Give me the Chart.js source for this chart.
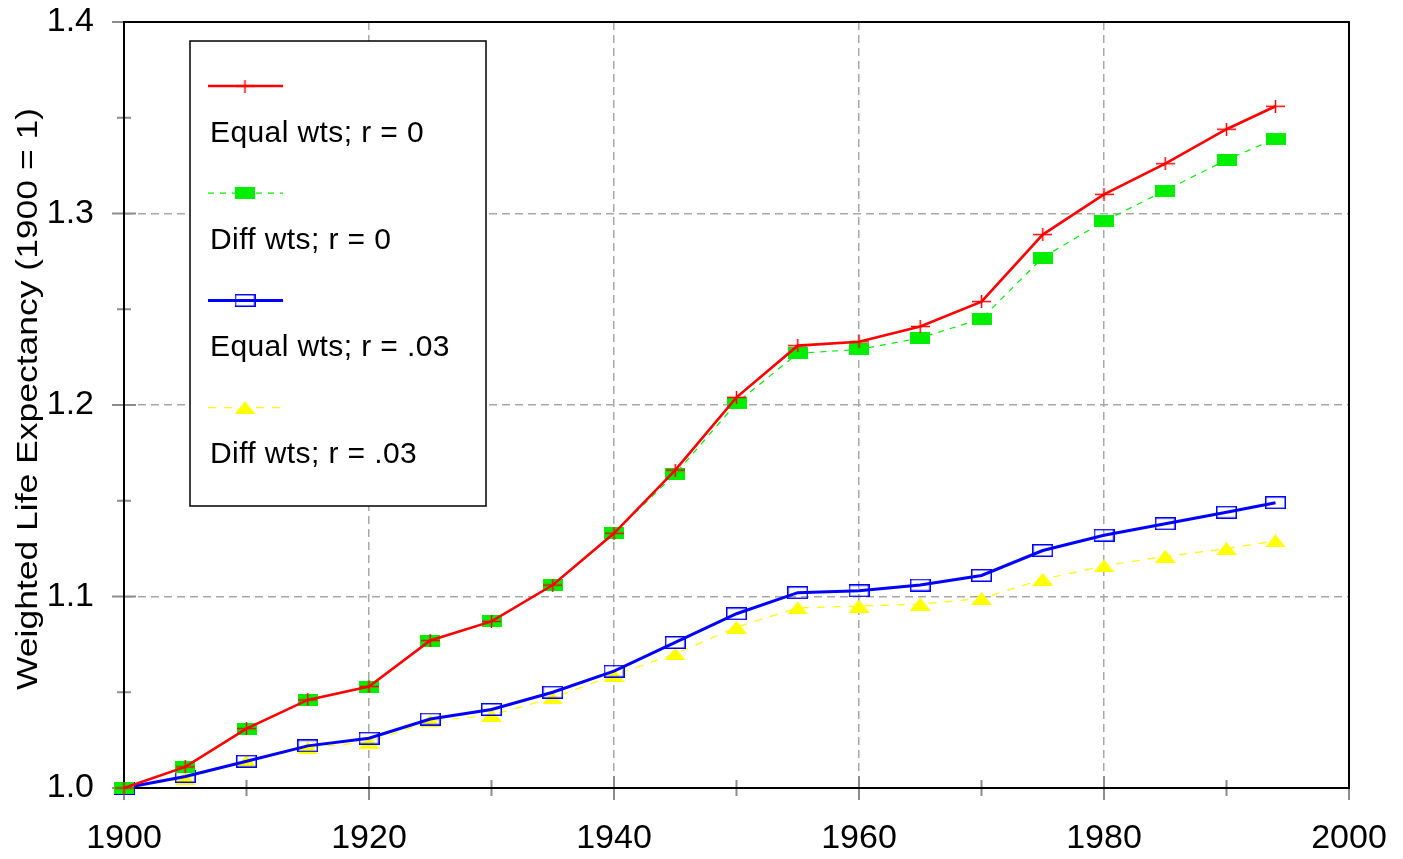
<!DOCTYPE html>
<html>
<head>
<meta charset="utf-8">
<script src="https://cdn.jsdelivr.net/npm/chart.js@4.4.1/dist/chart.umd.min.js"></script>
<style>
  html, body { margin: 0; padding: 0; background: #fff; }
  #wrap { width: 1403px; height: 859px; }
</style>
</head>
<body>
<div id="wrap"><canvas id="lifeChart" width="1403" height="859"></canvas></div>
<script>
const years = [1900, 1905, 1910, 1915, 1920, 1925, 1930, 1935, 1940, 1945, 1950,
               1955, 1960, 1965, 1970, 1975, 1980, 1985, 1990, 1994];

const equalWtsR0 = [1.000, 1.011, 1.031, 1.046, 1.053, 1.077, 1.087, 1.106, 1.133, 1.166, 1.204,
                    1.231, 1.233, 1.241, 1.254, 1.289, 1.310, 1.326, 1.344, 1.356];
const diffWtsR0 = [1.000, 1.011, 1.031, 1.046, 1.053, 1.077, 1.087, 1.106, 1.133, 1.164, 1.201,
                   1.227, 1.229, 1.235, 1.245, 1.277, 1.296, 1.312, 1.328, 1.339];
const equalWtsR03 = [1.000, 1.006, 1.014, 1.022, 1.026, 1.036, 1.041, 1.050, 1.061, 1.076, 1.091,
                     1.102, 1.103, 1.106, 1.111, 1.124, 1.132, 1.138, 1.144, 1.149];
const diffWtsR03 = [1.000, 1.005, 1.014, 1.021, 1.024, 1.035, 1.038, 1.047, 1.059, 1.070, 1.084,
                    1.094, 1.095, 1.096, 1.099, 1.109, 1.116, 1.121, 1.125, 1.129];

const seriesLabels = ["Equal wts; r = 0", "Diff wts; r = 0", "Equal wts; r = .03", "Diff wts; r = .03"];
const xTickLabels = [1900, 1920, 1940, 1960, 1980, 2000];
const yTickLabels = [1.0, 1.1, 1.2, 1.3, 1.4];
const yAxisTitle = "Weighted Life Expectancy (1900 = 1)";

const FONT = "'Liberation Sans', Arial, Helvetica, sans-serif";

function makeMarker(kind, color) {
   const c = document.createElement("canvas");
   const ctx = c.getContext("2d");
   if (kind === "plus") {
      c.width = 19; c.height = 13;
      ctx.strokeStyle = color;
      ctx.lineWidth = 1.5;
      ctx.beginPath();
      ctx.moveTo(0, 6.5); ctx.lineTo(19, 6.5);
      ctx.moveTo(9.5, 0); ctx.lineTo(9.5, 13);
      ctx.stroke();
   } else if (kind === "box") {
      c.width = 20; c.height = 12;
      ctx.fillStyle = color;
      ctx.fillRect(0, 0, 20, 12);
   } else if (kind === "openBox") {
      c.width = 21; c.height = 13;
      ctx.strokeStyle = color;
      ctx.lineWidth = 1.5;
      ctx.strokeRect(0.75, 0.75, 19.5, 11.5);
   } else {
      c.width = 21; c.height = 13;
      ctx.fillStyle = color;
      ctx.beginPath();
      ctx.moveTo(0, 13); ctx.lineTo(10.5, 0); ctx.lineTo(21, 13);
      ctx.closePath();
      ctx.fill();
   }
   return c;
}

function toPoints(values) {
   return values.map((v, i) => ({ x: years[i], y: v }));
}

function isTick(list, value) {
   return list.some((t) => Math.abs(t - value) < 1e-6);
}

const frameAndTicks = {
   id: "frameAndTicks",
   beforeDatasetsDraw(chart) {
      const { ctx, chartArea: a, scales } = chart;
      ctx.save();
      ctx.strokeStyle = "#8c8c8c";
      ctx.lineWidth = 2;
      ctx.beginPath();
      scales.x.ticks.forEach((t) => {
         const px = scales.x.getPixelForValue(t.value);
         const len = isTick(xTickLabels, t.value) ? 12 : 8;
         ctx.moveTo(px, a.bottom - len);
         ctx.lineTo(px, a.bottom + len);
      });
      scales.y.ticks.forEach((t) => {
         const py = scales.y.getPixelForValue(t.value);
         const len = isTick(yTickLabels, t.value) ? 12 : 7;
         ctx.moveTo(a.left - len, py);
         ctx.lineTo(a.left + len, py);
      });
      ctx.stroke();

      ctx.strokeStyle = "#000";
      ctx.lineWidth = 2;
      ctx.strokeRect(a.left, a.top, a.right - a.left, a.bottom - a.top);

      // rotated axis title, stretched along its length like the original
      ctx.fillStyle = "#000";
      ctx.font = "30px " + FONT;
      ctx.textAlign = "center";
      ctx.textBaseline = "alphabetic";
      const stretch = 582 / ctx.measureText(yAxisTitle).width;
      ctx.translate(37, (a.top + a.bottom) / 2 - 6);
      ctx.rotate(-Math.PI / 2);
      ctx.scale(stretch, 1);
      ctx.fillText(yAxisTitle, 0, 0);
      ctx.restore();
   }
};

const boxLegend = {
   id: "boxLegend",
   afterDatasetsDraw(chart) {
      const ctx = chart.ctx;
      const box = { x: 190, y: 41, w: 296, h: 465 };
      ctx.save();
      ctx.fillStyle = "#fff";
      ctx.fillRect(box.x, box.y, box.w, box.h);
      ctx.strokeStyle = "#000";
      ctx.lineWidth = 1.5;
      ctx.strokeRect(box.x, box.y, box.w, box.h);

      chart.data.datasets.forEach((ds, i) => {
         const ly = 86 + i * 107.2;
         ctx.strokeStyle = ds.borderColor;
         ctx.lineWidth = ds.borderWidth;
         ctx.setLineDash(ds.borderDash || []);
         ctx.beginPath();
         ctx.moveTo(208, ly);
         ctx.lineTo(283, ly);
         ctx.stroke();
         ctx.setLineDash([]);
         const m = ds.pointStyle;
         ctx.drawImage(m, 245 - m.width / 2, ly - m.height / 2);

         ctx.fillStyle = "#000";
         ctx.font = "30px " + FONT;
         ctx.letterSpacing = "0.4px";
         ctx.textAlign = "left";
         ctx.textBaseline = "alphabetic";
         ctx.fillText(ds.label, 210, ly + 55.5);
      });
      ctx.restore();
   }
};

function gridColor(labels, lo, hi) {
   return (c) => {
      const v = c.tick ? c.tick.value : null;
      if (v === null || !isTick(labels, v) || isTick([lo, hi], v)) return "rgba(0,0,0,0)";
      return "#a8a8a8";
   };
}

function noScalePadding(scale) {
   scale.paddingTop = 0;
   scale.paddingBottom = 0;
   scale.paddingLeft = 0;
   scale.paddingRight = 0;
}

new Chart(document.getElementById("lifeChart"), {
   type: "line",
   data: {
      datasets: [
         {
            label: seriesLabels[0],
            data: toPoints(equalWtsR0),
            borderColor: "#ff0000",
            borderWidth: 2.6,
            pointStyle: makeMarker("plus", "#ff0000"),
            pointRadius: 5
         },
         {
            label: seriesLabels[1],
            data: toPoints(diffWtsR0),
            borderColor: "#00ee00",
            borderWidth: 1.2,
            borderDash: [6, 6],
            pointStyle: makeMarker("box", "#00ee00"),
            pointRadius: 5
         },
         {
            label: seriesLabels[2],
            data: toPoints(equalWtsR03),
            borderColor: "#0000ff",
            borderWidth: 3,
            pointStyle: makeMarker("openBox", "#0000ff"),
            pointRadius: 5
         },
         {
            label: seriesLabels[3],
            data: toPoints(diffWtsR03),
            borderColor: "#ffff00",
            borderWidth: 1.2,
            borderDash: [8, 8],
            pointStyle: makeMarker("tri", "#ffff00"),
            pointRadius: 5
         }
      ]
   },
   options: {
      responsive: false,
      animation: false,
      clip: false,
      layout: { padding: { left: 0, top: 22, right: 54, bottom: 0 } },
      plugins: {
         legend: { display: false },
         tooltip: { enabled: false }
      },
      elements: {
         line: { tension: 0, fill: false },
         point: { hoverRadius: 5 }
      },
      scales: {
         x: {
            type: "linear",
            min: 1900,
            max: 2000,
            afterFit(scale) {
               scale.height = 71;
               noScalePadding(scale);
            },
            ticks: {
               stepSize: 10,
               autoSkip: false,
               maxRotation: 0,
               padding: 30,
               color: "#000",
               font: { family: FONT, size: 34 },
               callback: (v) => (isTick(xTickLabels, v) ? String(v) : "")
            },
            grid: {
               drawTicks: false,
               color: gridColor(xTickLabels, 1900, 2000),
               lineWidth: 1.5
            },
            border: { display: true, color: "#000", width: 2, dash: [8, 5] }
         },
         y: {
            type: "linear",
            min: 1.0,
            max: 1.4,
            afterFit(scale) {
               scale.width = 124;
               noScalePadding(scale);
            },
            ticks: {
               stepSize: 0.05,
               autoSkip: false,
               padding: 30,
               color: "#000",
               font: { family: FONT, size: 34 },
               callback: (v) => (isTick(yTickLabels, v) ? Number(v).toFixed(1) : "")
            },
            grid: {
               drawTicks: false,
               color: gridColor(yTickLabels, 1.0, 1.4),
               lineWidth: 1.5
            },
            border: { display: true, color: "#000", width: 2, dash: [8, 5] }
         }
      }
   },
   plugins: [frameAndTicks, boxLegend]
});
</script>
</body>
</html>
